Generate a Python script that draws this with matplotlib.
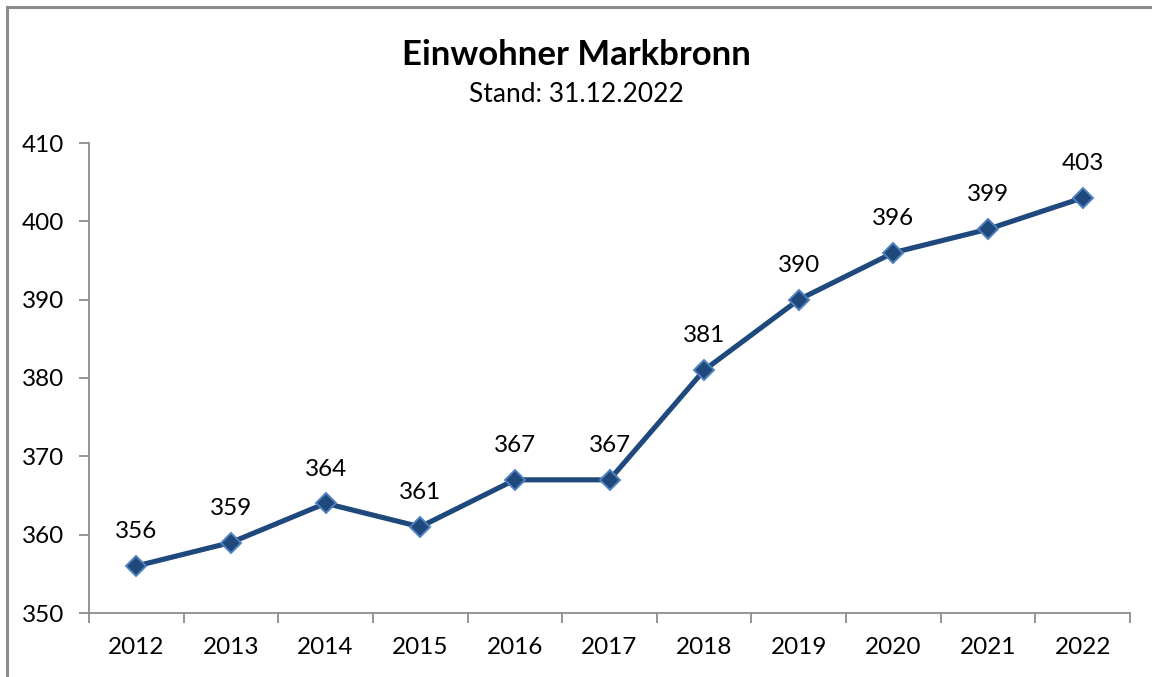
import matplotlib.pyplot as plt
from matplotlib.patches import Rectangle

plt.rcParams['font.family'] = ['Lato', 'DejaVu Sans']

years = ["2012", "2013", "2014", "2015", "2016", "2017", "2018", "2019", "2020", "2021", "2022"]
einwohner = [356, 359, 364, 361, 367, 367, 381, 390, 396, 399, 403]

W, H = 1152, 677
fig = plt.figure(figsize=(W / 100, H / 100), dpi=100)

# grey frame of the chart area (clipped at right/bottom like the original)
fig.patches.append(Rectangle((7 / W, -0.1), 1.2, 1 - 7 / H + 0.1, transform=fig.transFigure,
                             fill=False, edgecolor="#8c8c8c", linewidth=2.2))

ax = fig.add_axes([89 / W, 1 - 613 / H, (1130 - 89) / W, (613 - 143) / H])

x = list(range(len(years)))
ax.plot(x, einwohner, color="#1f497d", linewidth=3.7, marker="D", markersize=10,
        markerfacecolor="#1f497d", markeredgecolor="#4f81bd", markeredgewidth=1.4, zorder=3)

for xi, v in zip(x, einwohner):
    ax.annotate(str(v), (xi, v), xytext=(0, 20), textcoords="offset points",
                ha="center", va="baseline", fontsize=17.5, color="black")

ax.set_xlim(-0.5, len(years) - 0.5)
ax.set_ylim(350, 410)
ax.set_yticks(range(350, 411, 10))
ax.set_xticks(x)
ax.set_xticklabels(years)
ax.set_xticks([i - 0.5 for i in range(len(years) + 1)], minor=True)

for s in ["top", "right"]:
    ax.spines[s].set_visible(False)
for s in ["left", "bottom"]:
    ax.spines[s].set_color("#8c8c8c")
    ax.spines[s].set_linewidth(1.3)

ax.tick_params(axis="x", which="major", length=0, pad=17, labelsize=17.5)
ax.tick_params(axis="x", which="minor", length=7, width=1.3, color="#8c8c8c", direction="out")
ax.tick_params(axis="y", length=7, width=1.3, color="#8c8c8c", direction="out", pad=11, labelsize=17.5)

fig.text(0.5, 1 - 55 / H, "Einwohner Markbronn", ha="center", va="center",
         fontsize=25, fontweight="bold")
fig.text(0.5, 1 - 95 / H, "Stand: 31.12.2022", ha="center", va="center", fontsize=19)

fig.savefig("out.png", dpi=100)
